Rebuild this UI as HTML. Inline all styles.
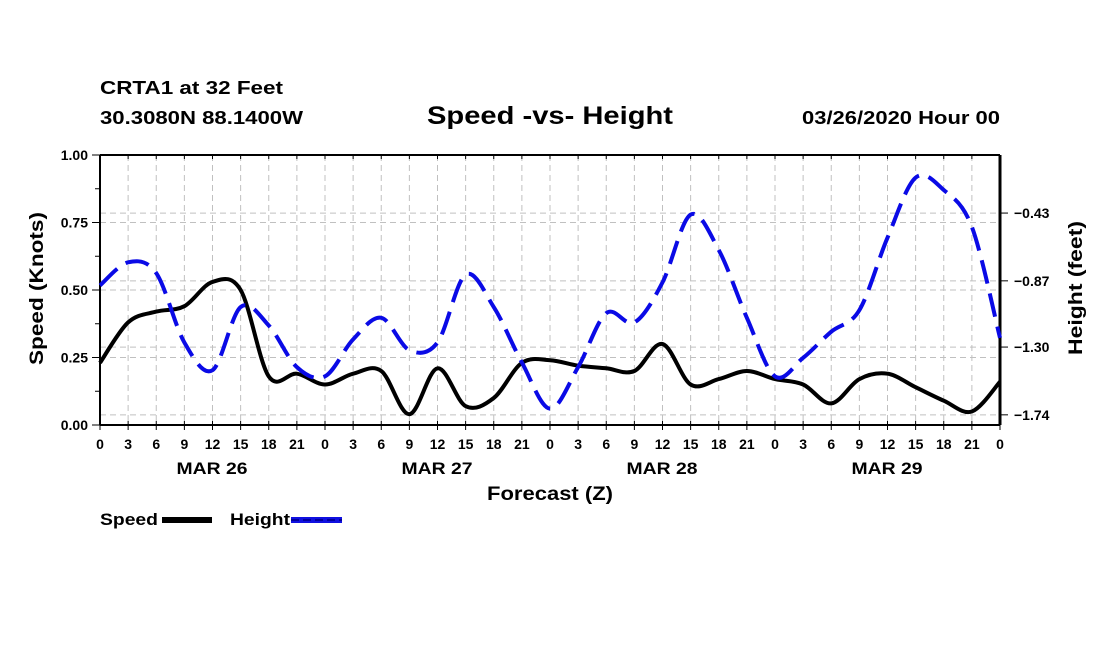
<!DOCTYPE html>
<html><head><meta charset="utf-8"><style>
html,body{margin:0;padding:0;background:#fff;}
svg{display:block;font-family:"Liberation Sans",sans-serif;font-weight:bold;}
</style></head><body>
<svg id="chart" width="1100" height="650" viewBox="0 0 1100 650" xmlns="http://www.w3.org/2000/svg">
<rect width="1100" height="650" fill="#fff"/>
<text x="100" y="94" font-size="18" textLength="183" lengthAdjust="spacingAndGlyphs">CRTA1 at 32 Feet</text>
<text x="100" y="124" font-size="18" textLength="203" lengthAdjust="spacingAndGlyphs">30.3080N 88.1400W</text>
<text x="427" y="124" font-size="25" textLength="246" lengthAdjust="spacingAndGlyphs">Speed -vs- Height</text>
<text x="802" y="124" font-size="18" textLength="198" lengthAdjust="spacingAndGlyphs">03/26/2020 Hour 00</text>
<g id="grid"></g>
<g id="axes"></g>
<g id="series"></g>
<text transform="translate(43,365) rotate(-90)" font-size="19" textLength="153" lengthAdjust="spacingAndGlyphs">Speed (Knots)</text>
<text transform="translate(1082,355) rotate(-90)" font-size="19" textLength="134" lengthAdjust="spacingAndGlyphs">Height (feet)</text>
<text x="487" y="500" font-size="19" textLength="126" lengthAdjust="spacingAndGlyphs">Forecast (Z)</text>
<g>
<text x="100" y="525" font-size="17" textLength="58" lengthAdjust="spacingAndGlyphs">Speed</text>
<rect x="162" y="517" width="50" height="6" fill="#000"/>
<text x="230" y="525" font-size="17" textLength="60" lengthAdjust="spacingAndGlyphs">Height</text>
<rect x="291" y="517" width="51" height="6" fill="#1010e0"/>
<line x1="291" y1="520" x2="342" y2="520" stroke="#0000a0" stroke-width="2" stroke-dasharray="8,4"/>
</g>
</svg>
<script>
const hours = [0,3,6,9,12,15,18,21,24,27,30,33,36,39,42,45,48,51,54,57,60,63,66,69,72,75,78,81,84,87,90,93,96];
const speedValues = [0.23,0.38,0.42,0.44,0.53,0.50,0.18,0.19,0.15,0.19,0.20,0.04,0.21,0.07,0.10,0.23,0.24,0.22,0.21,0.20,0.30,0.15,0.17,0.20,0.17,0.15,0.08,0.17,0.19,0.14,0.09,0.05,0.16];
const heightValues = [-0.90,-0.75,-0.82,-1.27,-1.45,-1.04,-1.16,-1.43,-1.49,-1.25,-1.11,-1.32,-1.27,-0.83,-1.04,-1.40,-1.70,-1.43,-1.08,-1.14,-0.88,-0.44,-0.67,-1.11,-1.49,-1.37,-1.20,-1.06,-0.59,-0.20,-0.28,-0.52,-1.24];
const speedTicks = [0,0.25,0.5,0.75,1.0];
const speedTickLabels = ["0.00","0.25","0.50","0.75","1.00"];
const heightTicks = [-0.43,-0.87,-1.30,-1.74];
const heightTickLabels = ["\u22120.43","\u22120.87","\u22121.30","\u22121.74"];
const hourTickLabels = ["0","3","6","9","12","15","18","21"];
const dayLabels = ["MAR 26","MAR 27","MAR 28","MAR 29"];

const X0=100,X1=1000,Y0=425,Y1=155;
const H_MIN=-1.806,H_MAX=-0.053;
function xS(h){return X0+(h/96)*(X1-X0);}
function yS(v){return Y0-v*(Y0-Y1);}
function yH(v){return Y0-(v-H_MIN)/(H_MAX-H_MIN)*(Y0-Y1);}
const NS="http://www.w3.org/2000/svg";
function mk(tag,attrs,parent){const e=document.createElementNS(NS,tag);for(const k in attrs)e.setAttribute(k,attrs[k]);parent.appendChild(e);return e;}
const grid=document.getElementById('grid'),axes=document.getElementById('axes'),series=document.getElementById('series');
const gs={stroke:"#c0c0c0","stroke-width":1,"stroke-dasharray":"6,4"};
for(let h=3;h<96;h+=3){const l=mk('line',Object.assign({x1:xS(h),x2:xS(h),y1:Y1,y2:Y0},gs),grid);

}
speedTicks.forEach((v,i)=>{if(v>0&&v<1){const l=mk('line',Object.assign({x1:X0,x2:X1,y1:yS(v),y2:yS(v)},gs),grid);

}});
heightTicks.forEach(v=>{const l=mk('line',Object.assign({x1:X0,x2:X1,y1:yH(v),y2:yH(v)},gs),grid);

});
mk('line',{x1:X0,x2:X1,y1:Y1,y2:Y1,stroke:"#000","stroke-width":2},axes);
mk('line',{x1:X0,x2:X1,y1:Y0,y2:Y0,stroke:"#000","stroke-width":2},axes);
mk('line',{x1:X0,x2:X0,y1:Y1,y2:Y0,stroke:"#000","stroke-width":2},axes);
mk('line',{x1:X1,x2:X1,y1:Y1,y2:Y0,stroke:"#000","stroke-width":3},axes);
for(let h=0;h<=96;h+=3){
  mk('line',{x1:xS(h),x2:xS(h),y1:Y0-4,y2:Y0+5,stroke:"#000","stroke-width":1},axes);
  mk('line',{x1:xS(h),x2:xS(h),y1:Y1,y2:Y1+4,stroke:"#000","stroke-width":1},axes);
  const t=mk('text',{x:xS(h),y:449,"font-size":14,"text-anchor":"middle"},axes);
  t.textContent=hourTickLabels[(h/3)%8];
  
  
}
dayLabels.forEach((d,i)=>{const t=mk('text',{x:xS(12+24*i)-36,y:474,"font-size":17,textLength:71,lengthAdjust:"spacingAndGlyphs"},axes);
t.textContent=d;

});
for(let v=0;v<=1.0001;v+=0.125){mk('line',{x1:X0-5,x2:X0,y1:yS(v),y2:yS(v),stroke:"#000","stroke-width":1},axes);}
speedTicks.forEach((v,i)=>{mk('line',{x1:X0-8,x2:X0,y1:yS(v),y2:yS(v),stroke:"#000","stroke-width":1},axes);
const t=mk('text',{x:X0-12,y:yS(v)+5,"font-size":14,"text-anchor":"end"},axes);
t.textContent=speedTickLabels[i];

});
heightTicks.forEach((v,i)=>{mk('line',{x1:X1,x2:X1+8,y1:yH(v),y2:yH(v),stroke:"#000","stroke-width":1},axes);
const t=mk('text',{x:X1+14,y:yH(v)+5,"font-size":14},axes);
t.textContent=heightTickLabels[i];

});
function smooth(pts){let d="M"+pts[0][0]+","+pts[0][1];
for(let i=0;i<pts.length-1;i++){const p0=pts[Math.max(0,i-1)],p1=pts[i],p2=pts[i+1],p3=pts[Math.min(pts.length-1,i+2)];
const c1x=p1[0]+(p2[0]-p0[0])/6,c1y=p1[1]+(p2[1]-p0[1])/6,c2x=p2[0]-(p3[0]-p1[0])/6,c2y=p2[1]-(p3[1]-p1[1])/6;
d+=" C"+c1x+","+c1y+" "+c2x+","+c2y+" "+p2[0]+","+p2[1];}return d;}
const sp=mk('path',{d:smooth(hours.map((h,i)=>[xS(h),yS(speedValues[i])])),fill:"none",stroke:"#000","stroke-width":4},series);


const hp=mk('path',{d:smooth(hours.map((h,i)=>[xS(h),yH(heightValues[i])])),fill:"none",stroke:"#0a0ae6","stroke-width":4,"stroke-dasharray":"24,10"},series);


</script>
</body></html>
